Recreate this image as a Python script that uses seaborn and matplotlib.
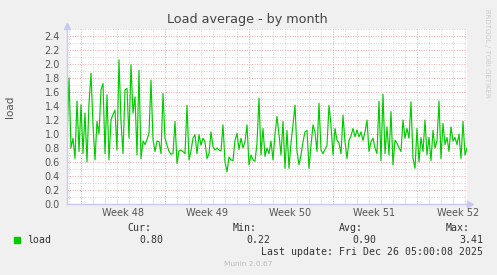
import matplotlib
matplotlib.use("Agg")
import numpy as np
import pandas as pd
import seaborn as sns
import matplotlib.pyplot as plt

# ---- data (4-hour samples) ----
load = [
    0.88, 1.80, 0.80, 0.94, 0.65, 1.47, 0.75, 1.42, 0.72, 1.30, 0.60, 1.44, 1.87,
    1.13, 0.63, 1.18, 1.00, 1.63, 1.72, 0.72, 1.56, 0.63, 1.20, 1.28, 1.34,
    0.77, 2.06, 1.18, 0.72, 1.63, 1.65, 0.94, 1.99, 1.30, 1.53, 0.70, 1.91, 0.65,
    0.90, 0.85, 0.92, 1.01, 1.77, 0.92, 0.75, 0.90, 0.89, 0.72, 1.58, 0.94,
    0.84, 0.75, 0.71, 0.72, 1.18, 0.58, 0.76, 0.77, 0.75, 0.72, 1.41, 0.63, 0.76,
    0.94, 0.99, 0.72, 0.99, 0.84, 0.94, 0.89, 0.65, 0.72, 1.03, 0.82, 0.77,
    0.80, 0.77, 0.76, 1.13, 0.60, 0.46, 0.67, 0.63, 0.62, 0.91, 1.01, 0.78, 0.94,
    0.80, 0.89, 1.13, 0.56, 0.70, 0.63, 0.61, 0.87, 1.51, 0.70, 1.08, 0.68,
    0.80, 0.72, 0.90, 0.63, 1.00, 1.25, 0.99, 0.70, 1.18, 0.51, 1.05, 0.51, 0.88,
    1.13, 1.41, 0.75, 0.56, 0.70, 0.89, 1.03, 1.05, 0.51, 0.84, 1.13, 1.03,
    0.75, 1.44, 0.77, 0.72, 0.78, 0.84, 1.41, 1.13, 0.70, 1.08, 0.91, 0.87, 0.72,
    1.27, 0.89, 0.65, 0.91, 0.97, 1.08, 0.96, 1.06, 0.96, 1.03, 0.91, 1.03,
    1.20, 0.75, 0.89, 0.94, 0.80, 0.72, 1.47, 0.62, 1.57, 0.72, 1.10, 0.70, 1.32,
    0.56, 0.91, 0.87, 0.80, 0.75, 1.20, 0.94, 1.08, 0.94, 1.46, 0.65, 0.51,
    1.08, 0.60, 0.95, 0.75, 1.20, 0.70, 0.95, 0.62, 1.05, 0.80, 0.90, 1.47, 0.65,
    1.15, 0.85, 0.95, 0.75, 1.10, 0.90, 0.95, 0.85, 1.00, 0.65, 1.18, 0.70, 0.80,
]
week_labels = ["Week 48", "Week 49", "Week 50", "Week 51", "Week 52"]
week_centers = ["2025-11-27 12:00", "2025-12-04 12:00", "2025-12-11 12:00",
                "2025-12-18 12:00", "2025-12-25 12:00"]
stat_names = ["Cur:", "Min:", "Avg:", "Max:"]
stat_values = ["0.80", "0.22", "0.90", "3.41"]
last_update = "Last update: Fri Dec 26 05:00:08 2025"

times = pd.date_range(end="2025-12-26 05:00", periods=len(load), freq="4h")
df = pd.DataFrame({"time": times, "load": load})

sns.set_theme(style="white")
plt.rcParams["font.family"] = ["DejaVu Sans"]

W, H = 497, 275
fig = plt.figure(figsize=(W / 100, H / 100), dpi=100, facecolor="#f0f0f0")
ax = fig.add_axes([67 / W, (H - 204) / H, 400 / W, 175 / H])
ax.set_facecolor("white")

grid_gray = "#d4d4d4"
grid_red = "#eeaaaa"
dots = (0, (1, 1.6))

# horizontal grid
for k in range(1, 26):
    y = k / 10
    ax.axhline(y, color=grid_red if k % 2 == 0 else grid_gray, lw=0.7, ls=dots, zorder=1)
# vertical grid (days, weeks in red)
for d in pd.date_range("2025-11-23", "2025-12-26", freq="D"):
    ax.axvline(d, color=grid_red if d.dayofweek == 0 else grid_gray, lw=0.7, ls=dots, zorder=1)

sns.lineplot(data=df, x="time", y="load", ax=ax, color="#00cc00", linewidth=0.85, zorder=3)

ax.set_xlim(times[0], times[-1])
ax.set_ylim(0, 2.5)
ax.set_yticks(np.arange(0, 2.41, 0.2))
ax.set_yticklabels([f"{v:.1f}" for v in np.arange(0, 2.41, 0.2)])
ax.set_xticks(pd.to_datetime(week_centers))
ax.set_xticklabels(week_labels)
ax.set_xlabel("")
ax.set_ylabel("")
ax.tick_params(axis="both", length=0, labelsize=7, colors="#555555")
ax.tick_params(axis="y", pad=5)
ax.tick_params(axis="x", pad=3)

axis_col = "#c8c8f0"
for s in ["top", "right"]:
    ax.spines[s].set_visible(False)
for s in ["left", "bottom"]:
    ax.spines[s].set_color(axis_col)
    ax.spines[s].set_linewidth(1.0)
    ax.spines[s].set_zorder(4)
ax.plot([1.0, 1.008], [0, 0], color=axis_col, lw=1, transform=ax.transAxes, clip_on=False)
ax.plot([1.008], [0], marker=">", ms=4, color=axis_col, transform=ax.transAxes, clip_on=False)
ax.plot([0, 0], [1.0, 1.015], color=axis_col, lw=1, transform=ax.transAxes, clip_on=False)
ax.plot([0], [1.018], marker="^", ms=4, color=axis_col, transform=ax.transAxes, clip_on=False)

def fx(px):
    return px / W

def fy(py):
    return 1 - py / H

fig.text(fx(247.5), fy(19), "Load average - by month", ha="center", va="center",
         fontsize=9.2, color="#444444")
fig.text(fx(10), fy(107), "load", rotation=90, ha="center", va="center",
         fontsize=7.5, color="#555555")
fig.text(fx(487), fy(53), "RRDTOOL / TOBI OETIKER", rotation=270, ha="center", va="center",
         fontsize=5, color="#cccccc")

mono = "DejaVu Sans Mono"
fig.patches.append(plt.Rectangle((fx(14), fy(243)), 6 / W, 6 / H, transform=fig.transFigure,
                                 color="#00cc00"))
fig.text(fx(27), fy(240), "load", ha="left", va="center", fontsize=7.1, family=mono, color="#333333")
name_right = [151, 257, 363, 470]
val_right = [163, 270, 376, 483]
for n, v, xr, xv in zip(stat_names, stat_values, name_right, val_right):
    fig.text(fx(xr), fy(228), n, ha="right", va="center", fontsize=7.1, family=mono, color="#333333")
    fig.text(fx(xv), fy(240), v, ha="right", va="center", fontsize=7.1, family=mono, color="#333333")
fig.text(fx(483), fy(252), last_update, ha="right", va="center", fontsize=7.1, family=mono,
         color="#333333")
fig.text(fx(248), fy(264), "Munin 2.0.67", ha="center", va="center", fontsize=5.3,
         color="#bbbbbb")

fig.savefig("out.png", dpi=100, facecolor=fig.get_facecolor())
